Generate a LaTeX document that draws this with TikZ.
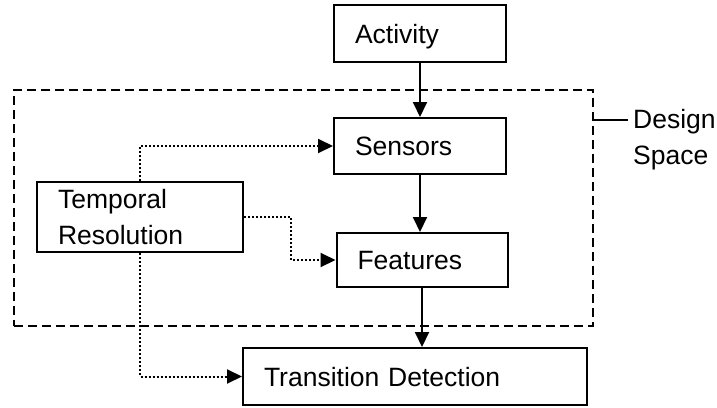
\documentclass[tikz,border=0pt]{standalone}
\usepackage{fontspec}
\setmainfont{Liberation Sans}
\usepackage{tikz}
\usetikzlibrary{arrows.meta, positioning}

\newcommand{\boxfont}{\fontsize{26.5}{36}\selectfont}

\begin{document}
\begin{tikzpicture}[x=1pt, y=-1pt,
  box/.style={draw, line width=2pt, inner xsep=21pt, inner ysep=0pt, align=left,
    font=\boxfont, text height=19pt, text depth=0pt},
  flow/.style={line width=2pt, -{Triangle[length=15pt,width=14pt]}},
  tempflow/.style={line width=2pt, dash pattern=on 2pt off 2pt,
    -{Triangle[length=15pt,width=14pt]}}]
  \useasboundingbox (0,0) rectangle (717,407);

  % design space frame
  \node[draw, line width=2pt, dash pattern=on 9pt off 5pt, inner sep=0pt,
    minimum width=579pt, minimum height=236pt] (space) at (303.5,208) {};
  \node[font=\boxfont, align=left, inner sep=0pt, anchor=north west] (designlbl) at (633,109) {Design\\Space};
  \coordinate (lead) at (space.east |- 0,120);
  \draw[line width=2pt] (lead) -- ([xshift=-5pt]designlbl.west |- lead);

  % boxes
  \node[box, text width=130pt, minimum height=57pt] (activity) at (420,33.5) {Activity};
  \node[box, text width=130pt, minimum height=56pt] (sensors) at (420,146) {Sensors};
  \node[box, text width=129pt, minimum height=54pt] (features) at (422,260) {Features};
  \node[box, text width=164pt, minimum height=70pt, text depth=36pt] (temporal) at (140,217) {Temporal\\Resolution};
  \node[box, text width=302pt, minimum height=57pt] (transition) at (415,376.5) {Transition Detection};

  % main flow
  \draw[flow] (activity) -- (sensors);
  \draw[flow] (sensors.south) -- (sensors.south |- features.north);
  \draw[flow] (features.south) -- (features.south |- transition.north);

  % temporal resolution
  \draw[tempflow] (temporal.north) |- (sensors.west);
  \draw[tempflow] (temporal.east) -- ++(47,0) |- (features.west);
  \draw[tempflow] (temporal.south) |- (transition.west);
\end{tikzpicture}
\end{document}
